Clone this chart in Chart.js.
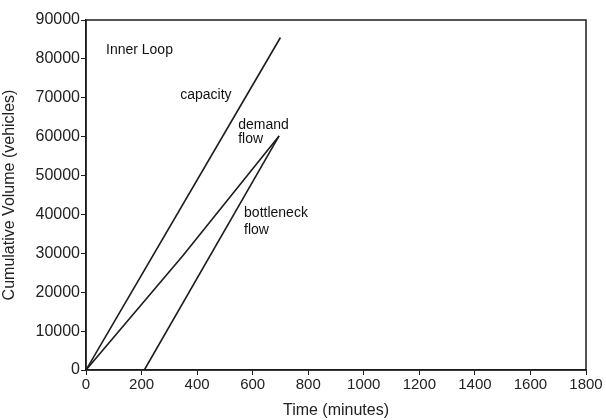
<!DOCTYPE html>
<html>
<head>
<meta charset="utf-8">
<script src="https://cdn.jsdelivr.net/npm/chart.js@4.4.0/dist/chart.umd.min.js"></script>
<style>
  html, body { margin: 0; padding: 0; background: #fff; }
  #wrap { width: 606px; height: 420px; }
</style>
</head>
<body>
<div id="wrap"><canvas id="chart" width="606" height="420"></canvas></div>
<script>
// values (minutes, vehicles)
let capacityX = [0, 700]
let capacityY = [0, 85500]
let demandX = [0, 350, 695]
let demandY = [0, 29500, 60200]
let bottleneckX = [210, 695]
let bottleneckY = [0, 60200]

let xTicks = [0, 200, 400, 600, 800, 1000, 1200, 1400, 1600, 1800]
let yTicks = [0, 10000, 20000, 30000, 40000, 50000, 60000, 70000, 80000, 90000]

// text notes on the plot, placed at data coordinates
let noteText = ["Inner Loop", "capacity", "demand", "flow", "bottleneck", "flow"]
let noteX = [72, 339, 548, 548, 569, 569]
let noteY = [82300, 70770, 63080, 59490, 40260, 35900]

function pts(xs, ys) {
  return xs.map((x, i) => ({ x: x, y: ys[i] }))
}

const ink = '#1c1c1c'
const font = '"Liberation Sans", Arial, sans-serif'
const lineStyle = { borderColor: ink, borderWidth: 1.6, pointRadius: 0, showLine: true, fill: false, tension: 0 }

// frame round the plot area plus the notes
const framePlugin = {
  id: 'frame',
  afterDraw(chart) {
    let ctx = chart.ctx
    let a = chart.chartArea
    ctx.save()
    ctx.strokeStyle = ink
    ctx.lineWidth = 1.5
    ctx.strokeRect(a.left, a.top, a.right - a.left, a.bottom - a.top)
    ctx.fillStyle = '#111'
    ctx.font = '14px ' + font
    ctx.textAlign = 'left'
    ctx.textBaseline = 'middle'
    for (let i = 0; i < noteText.length; i++) {
      let px = chart.scales.x.getPixelForValue(noteX[i])
      let py = chart.scales.y.getPixelForValue(noteY[i])
      ctx.fillText(noteText[i], px, py)
    }
    ctx.restore()
  }
}

let ctx = document.getElementById('chart').getContext('2d')
let chart = new Chart(ctx, {
  type: 'scatter',
  data: {
    datasets: [
      Object.assign({ label: 'capacity', data: pts(capacityX, capacityY) }, lineStyle),
      Object.assign({ label: 'demand flow', data: pts(demandX, demandY) }, lineStyle),
      Object.assign({ label: 'bottleneck flow', data: pts(bottleneckX, bottleneckY) }, lineStyle)
    ]
  },
  options: {
    responsive: false,
    animation: false,
    layout: { padding: { left: 0, right: 20, top: 20, bottom: 0 } },
    plugins: { legend: { display: false }, tooltip: { enabled: false } },
    scales: {
      x: {
        type: 'linear',
        min: 0, max: 1800,
        afterBuildTicks: s => { s.ticks = xTicks.map(v => ({ value: v })) },
        afterFit: s => { s.height = 50 },
        grid: { drawOnChartArea: false, drawTicks: true, tickLength: 5, tickColor: ink },
        border: { color: ink, width: 1.5 },
        ticks: { color: '#222', font: { size: 15, family: font }, padding: 1, maxRotation: 0, callback: v => String(v) },
        title: { display: true, text: 'Time (minutes)', color: '#222', padding: { top: -2, bottom: 0 }, font: { size: 16, family: font } }
      },
      y: {
        type: 'linear',
        min: 0, max: 90000,
        afterBuildTicks: s => { s.ticks = yTicks.map(v => ({ value: v })) },
        afterFit: s => { s.width = 86 },
        grid: { drawOnChartArea: false, drawTicks: true, tickLength: 5, tickColor: ink },
        border: { color: ink, width: 1.5 },
        ticks: { color: '#222', font: { size: 16, family: font }, padding: 1, callback: v => String(v) },
        title: { display: true, text: 'Cumulative Volume (vehicles)', color: '#222', padding: { top: 0, bottom: 2 }, font: { size: 16, family: font } }
      }
    }
  },
  plugins: [framePlugin]
})
</script>
</body>
</html>
